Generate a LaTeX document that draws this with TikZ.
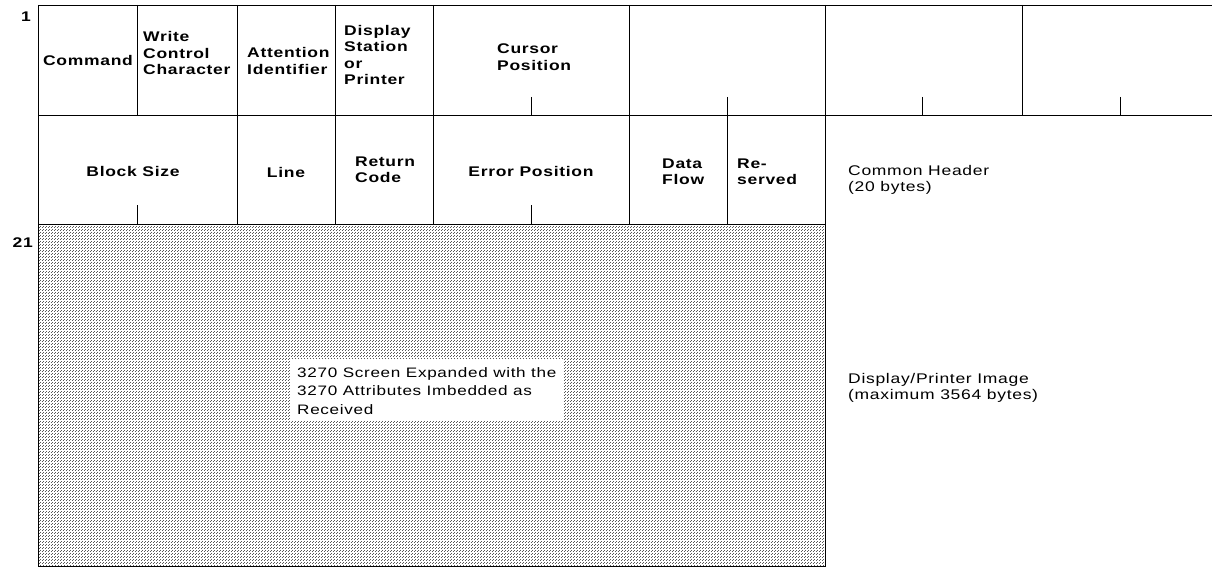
\documentclass[tikz,border=0pt]{standalone}
\usepackage{fontspec}
\setmainfont{Liberation Sans}[FakeStretch=1.25,LetterSpace=5]
\usetikzlibrary{patterns}
\pgfdeclarepatternformonly{ibmdots}{\pgfpointorigin}{\pgfqpoint{3pt}{3pt}}{\pgfqpoint{3pt}{3pt}}{%
  \pgfpathrectangle{\pgfpointorigin}{\pgfqpoint{1.15pt}{1.15pt}}%
  \pgfpathrectangle{\pgfqpoint{1.5pt}{1.5pt}}{\pgfqpoint{1.15pt}{1.15pt}}%
  \pgfusepath{fill}}
\tikzset{
  grid/.style={line width=0.9pt,black},
  tick/.style={line width=0.9pt,black},
  lbl/.style={font=\fontsize{14}{16.5}\selectfont\bfseries,inner sep=0pt,align=left},
  note/.style={font=\fontsize{14}{16}\selectfont,inner sep=0pt,align=left},
  rownum/.style={font=\fontsize{14}{16}\selectfont\bfseries,inner sep=0pt},
}
\begin{document}
\begin{tikzpicture}[x=1pt,y=-1pt]
\useasboundingbox (0,0) rectangle (1212,567);
% shaded image area
\fill[white] (38,224) rectangle (825,566);
\fill[pattern=ibmdots,pattern color=black!65] (38,224) rectangle (825,566);
\draw[grid] (38,224) rectangle (825,566);
\fill[white] (291,359) rectangle (563,421);
% header grid
\draw[grid] (38,5) -- (1212,5);
\draw[grid] (38,115) -- (1212,115);
\draw[grid] (38,5) -- (38,566);
\foreach \x in {137,237,335,433,629,825,1022} \draw[grid] (\x,5) -- (\x,115);
\foreach \x in {237,335,433,629,727,825} \draw[grid] (\x,115) -- (\x,224);
\foreach \x in {531,727,922,1120} \draw[tick] (\x,97) -- (\x,115);
\foreach \x in {137,531} \draw[tick] (\x,205) -- (\x,224);
% row numbers
\node[rownum] (r1) at (26,17) {1};
\node[rownum,anchor=east] (r21) at (33,243) {21};
% top row labels
\node[lbl] (cmd) at (88,60) {Command};
\node[lbl,anchor=west] (wcc) at (143,53) {Write\\Control\\Character};
\node[lbl,anchor=west] (aid) at (247,61) {Attention\\Identifier};
\node[lbl,anchor=west] (dsp) at (344,55) {Display\\Station\\or\\Printer};
\node[lbl,anchor=west] (cur) at (497,57) {Cursor\\Position};
% middle row labels
\node[lbl] (blk) at (133,171) {Block Size};
\node[lbl] (line) at (286,172) {Line};
\node[lbl,anchor=west] (rc) at (355,170) {Return\\Code};
\node[lbl] (err) at (531,171) {Error Position};
\node[lbl,anchor=west] (df) at (662,172) {Data\\Flow};
\node[lbl,anchor=west] (res) at (737,172) {Re-\\served};
% notes
\node[note,anchor=west] (hdr) at (848,180) {Common Header\\(20 bytes)};
\node[note,anchor=west] (img) at (848,388) {Display/Printer Image\\(maximum 3564 bytes)};
\node[note,anchor=west,font=\fontsize{13.7}{18.5}\selectfont] (scr) at (297,391) {3270 Screen Expanded with the\\3270 Attributes Imbedded as\\Received};
\end{tikzpicture}
\end{document}
